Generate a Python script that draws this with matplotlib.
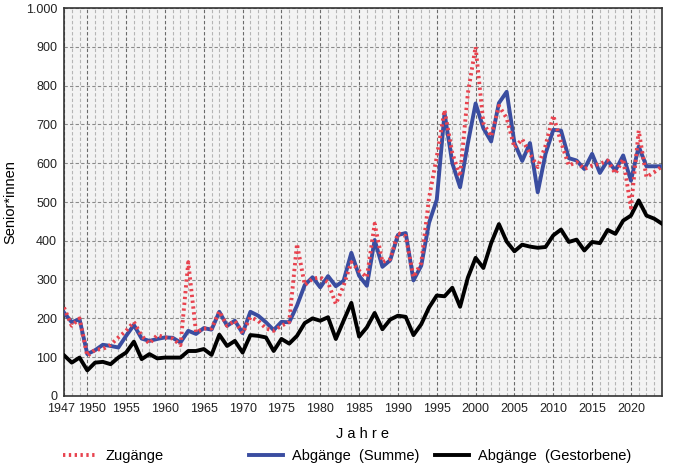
import matplotlib.pyplot as plt
import matplotlib.transforms as mtransforms
from matplotlib.lines import Line2D
from matplotlib.ticker import MultipleLocator, FuncFormatter, FixedLocator

years = list(range(1947, 2025))

zugaenge = [228, 181, 200, 103, 119, 121, 132, 151, 168, 191,
            155, 135, 157, 151, 148, 131, 345, 164, 174, 174,
            218, 181, 194, 162, 203, 194, 174, 168, 181, 191,
            392, 286, 302, 306, 293, 237, 284, 345, 323, 306,
            444, 345, 353, 420, 412, 306, 343, 510, 617, 737,
            626, 566, 780, 900, 703, 669, 748, 716, 640, 662,
            624, 590, 645, 723, 654, 594, 603, 585, 594, 598,
            607, 573, 611, 485, 684, 564, 577, 592]

abgaenge_summe = [215, 190, 198, 108, 118, 132, 129, 125, 155, 183,
                  148, 142, 147, 151, 150, 138, 168, 160, 175, 171,
                  217, 181, 194, 162, 217, 207, 190, 170, 191, 190,
                  233, 286, 306, 280, 309, 283, 297, 369, 310, 284,
                  402, 333, 350, 415, 420, 298, 336, 446, 506, 729,
                  600, 538, 651, 754, 690, 656, 755, 784, 652, 606,
                  652, 525, 624, 686, 684, 613, 607, 585, 624, 575,
                  607, 581, 620, 555, 643, 592, 592, 592]

abgaenge_gestorben = [105, 86, 99, 66, 86, 88, 82, 99, 112, 140,
                      95, 108, 97, 99, 99, 99, 116, 116, 121, 106,
                      158, 129, 142, 112, 157, 155, 151, 116, 147, 135,
                      155, 188, 200, 194, 203, 147, 194, 240, 153, 177,
                      214, 172, 197, 207, 204, 157, 185, 228, 259, 257,
                      279, 230, 305, 356, 330, 394, 443, 398, 373, 390,
                      385, 382, 384, 414, 429, 397, 403, 375, 397, 394,
                      428, 418, 452, 465, 504, 465, 457, 444]

x_ticks = [1947] + list(range(1950, 2021, 5))

RED = '#e8434f'
BLUE = '#3a4da0'
BLACK = '#000000'
DOTS = (0, (0.6, 0.9))

plt.rcParams['font.family'] = ['Liberation Sans', 'DejaVu Sans']

fig = plt.figure(figsize=(6.82, 4.69), dpi=100)
ax = fig.add_axes([64 / 682, 1 - 396 / 469, 598 / 682, 388 / 469])
ax.set_facecolor('#f3f3f3')

ax.plot(years, abgaenge_summe, color=BLUE, lw=2.8, zorder=3)
ax.plot(years, abgaenge_gestorben, color=BLACK, lw=2.8, zorder=3)
ax.plot(years, zugaenge, color=RED, lw=2.8, ls=DOTS, zorder=4)

ax.set_xlim(1947, 2024)
ax.set_ylim(0, 1000)
ax.xaxis.set_major_locator(FixedLocator(x_ticks))
ax.xaxis.set_minor_locator(MultipleLocator(1))
ax.yaxis.set_major_locator(MultipleLocator(100))
ax.yaxis.set_major_formatter(FuncFormatter(lambda v, p: f"{int(v):,}".replace(",", ".")))

ax.grid(axis='y', which='major', color='#8a8a8a', ls=(0, (3, 2)), lw=0.8)
ax.grid(axis='x', which='major', color='#6a6a6a', ls=(0, (3, 2)), lw=0.8)
ax.grid(axis='x', which='minor', color='#b5b5b5', ls=(0, (3, 2)), lw=0.8)
ax.set_axisbelow(True)

ax.tick_params(which='both', length=0, labelsize=9, colors='#222222', pad=5)
for s in ax.spines.values():
    s.set_color('#333333')
    s.set_linewidth(1.2)

# first two year labels sit a bit apart in the original
fig.canvas.draw()
xlabels = ax.get_xticklabels()
for lab, dx in ((xlabels[0], -3), (xlabels[1], 5)):
    lab.set_transform(lab.get_transform() +
                      mtransforms.ScaledTranslation(dx / 100, 0, fig.dpi_scale_trans))

ax.set_xlabel('J a h r e', fontsize=10.5, labelpad=9)
ax.set_ylabel('Senior*innen', fontsize=10.5, labelpad=6)

entries = [
    (Line2D([], [], color=RED, lw=2.8, ls=DOTS), 'Zugänge', 53),
    (Line2D([], [], color=BLUE, lw=2.8), 'Abgänge  (Summe)', 239),
    (Line2D([], [], color=BLACK, lw=2.8), 'Abgänge  (Gestorbene)', 425),
]
for h, label, px in entries:
    fig.legend(handles=[h], labels=[label], loc='center left',
               bbox_to_anchor=(px / 682, 1 - 456 / 469), frameon=False,
               fontsize=10.5, handlelength=2.3, handletextpad=0.6,
               borderpad=0.2)

fig.savefig('out.png', dpi=100)
